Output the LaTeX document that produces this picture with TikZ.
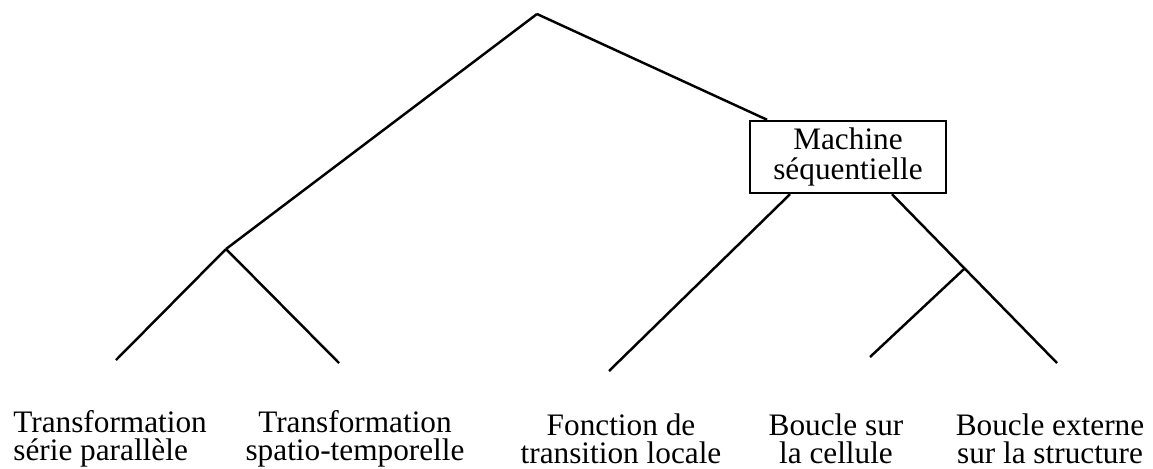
\documentclass[tikz,border=0pt]{standalone}
\usepackage{fontspec}
\setmainfont{Liberation Serif}
\usetikzlibrary{calc}
\usetikzlibrary{positioning}

\begin{document}
\begin{tikzpicture}[
	x=0.02cm, y=-0.02cm,
	box/.style = {rectangle, draw=black, line width=1.4pt, minimum width=3.92cm, minimum height=1.44cm, align=center, inner sep=0pt, font=\fontsize{17.8pt}{17pt}\selectfont},
	lab/.style = {inner sep=0pt, align=center, font=\fontsize{17.8pt}{15.9pt}\selectfont},
	br/.style = {line width=1.4pt}
	]
	\useasboundingbox (0,0) rectangle (1153,468);
	
	% === === Nodes === ===
	\coordinate	(top)	at	(537, 14);
	\node[box]	(seq)	at	(848, 157)	{Machine\\séquentielle};
	
	\coordinate	(j1)	at	(226, 249);
	\coordinate	(tsp)	at	(116, 360);
	\coordinate	(tst)	at	(339, 363);
	\coordinate	(ftl)	at	(609, 371);
	\coordinate	(bsc)	at	(870, 357);
	\coordinate	(bes)	at	(1057, 363);
	
	\node[lab, align=left, anchor=west]	(lsp)	at	(13, 439)	{Transformation\\série parallèle};
	\node[lab]	(lst)	at	(355, 439)	{Transformation\\spatio-temporelle};
	\node[lab]	(lfl)	at	(621, 439)	{Fonction de\\transition locale};
	\node[lab]	(lbc)	at	(836, 439)	{Boucle sur\\la cellule};
	\node[lab]	(lbe)	at	(1050, 439)	{Boucle externe\\sur la structure};
	
	
	% === === Lines === ===
	\draw[br]	(top)	--	(j1);
	\draw[br]	(top)	--	(seq);
	
	\draw[br]	(j1)	--	(tsp);
	\draw[br]	(j1)	--	(tst);
	
	\draw[br]	($(seq.south)+(-58,0)$)	--	(ftl);
	\draw[br]	($(seq.south)+(44,0)$)	--	coordinate[pos=0.44] (j2)	(bes);
	\draw[br]	(j2)	--	(bsc);
	
\end{tikzpicture}
\end{document}
